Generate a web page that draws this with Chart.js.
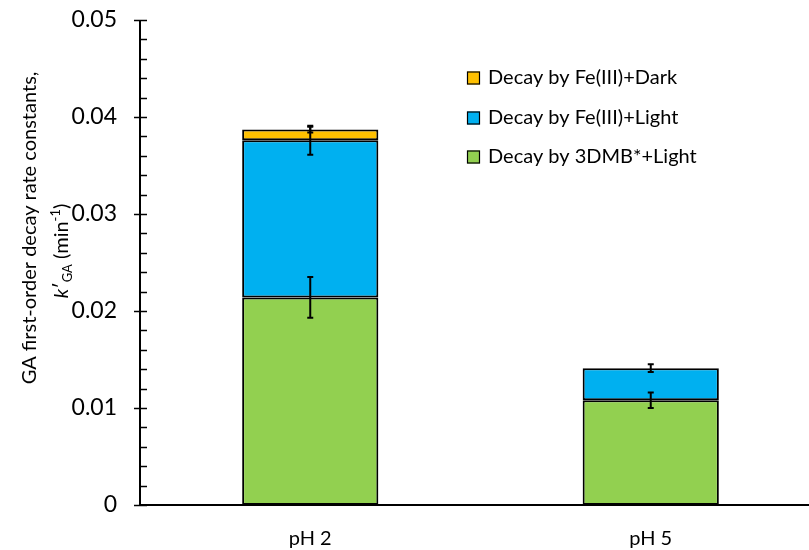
<!DOCTYPE html>
<html>
<head>
<meta charset="utf-8">
<script src="https://cdn.jsdelivr.net/npm/chart.js@4/dist/chart.umd.min.js"></script>
<style>
  html, body { margin: 0; padding: 0; background: #fff; overflow: hidden; width: 809px; height: 550px; }
  #wrap { position: relative; width: 821px; height: 550px; }
</style>
</head>
<body>
<div id="wrap"><canvas id="c" width="821" height="550"></canvas></div>
<script>
// Categories and stacked decay contributions (min^-1)
const categories = ['pH 2', 'pH 5'];
const by3DMBLight = [0.0214, 0.0108];
const byFeLight   = [0.0162, 0.0033];
const byFeDark    = [0.0011, 0];
// Error bar half-lengths for each segment
const err3DMBLight = [0.0021, 0.0008];
const errFeLight   = [0.0015, 0.0004];
const errFeDark    = [0.0003, 0];
// Y axis range and ticks
const yMin = 0, yMax = 0.05, yMajorStep = 0.01, yMinorStep = 0.002;

const FONT = 'Lato';
const AXIS = '#000';

const seriesList = [
  { label: 'Decay by 3DMB*+Light',  data: by3DMBLight, err: err3DMBLight, color: '#92D050' },
  { label: 'Decay by Fe(III)+Light', data: byFeLight,  err: errFeLight,   color: '#00B0F0' },
  { label: 'Decay by Fe(III)+Dark',  data: byFeDark,   err: errFeDark,    color: '#FFC000' }
];

// Error bars at the top of every stacked segment
const errorBars = {
  id: 'errorBars',
  afterDatasetsDraw(chart) {
    const ctx = chart.ctx, y = chart.scales.y;
    ctx.save();
    ctx.strokeStyle = '#000';
    ctx.lineWidth = 2;
    const cum = categories.map(() => 0);
    chart.data.datasets.forEach((ds, di) => {
      const meta = chart.getDatasetMeta(di);
      ds.data.forEach((v, i) => {
        cum[i] += v;
        const e = ds.errors[i];
        if (!e) return;
        const x = meta.data[i].x;
        const yT = y.getPixelForValue(cum[i] + e);
        const yB = y.getPixelForValue(cum[i] - e);
        ctx.beginPath();
        ctx.moveTo(x, yT); ctx.lineTo(x, yB);
        ctx.moveTo(x - 3, yT); ctx.lineTo(x + 3, yT);
        ctx.moveTo(x - 3, yB); ctx.lineTo(x + 3, yB);
        ctx.stroke();
      });
    });
    ctx.restore();
  }
};

// Axis lines, crossing major ticks and inward minor ticks
const axesFrame = {
  id: 'axesFrame',
  afterDraw(chart) {
    const ctx = chart.ctx, a = chart.chartArea, y = chart.scales.y;
    ctx.save();
    ctx.strokeStyle = AXIS;
    ctx.lineWidth = 2;
    ctx.beginPath();
    ctx.moveTo(a.left, a.top); ctx.lineTo(a.left, a.bottom);
    ctx.moveTo(a.left, a.bottom); ctx.lineTo(a.right, a.bottom);
    ctx.stroke();
    ctx.lineWidth = 1.5;
    const n = Math.round((yMax - yMin) / yMinorStep);
    const perMajor = Math.round(yMajorStep / yMinorStep);
    for (let k = 0; k <= n; k++) {
      const py = Math.round(y.getPixelForValue(yMin + k * yMinorStep)) + 0.5;
      const major = k % perMajor === 0;
      ctx.beginPath();
      ctx.moveTo(a.left - (major ? 6 : 0), py);
      ctx.lineTo(a.left + 7, py);
      ctx.stroke();
    }
    ctx.restore();
  }
};

// Y axis title (two rotated lines, second with sub/superscripts)
const yTitle = {
  id: 'yTitle',
  afterDraw(chart) {
    const ctx = chart.ctx;
    ctx.save();
    ctx.fillStyle = '#000';
    ctx.textBaseline = 'alphabetic';
    // line 1
    ctx.save();
    ctx.translate(36, 228);
    ctx.rotate(-Math.PI / 2);
    ctx.font = `20px ${FONT}`;
    ctx.textAlign = 'center';
    ctx.fillText('GA first-order decay rate constants,', 0, 0);
    ctx.restore();
    // line 2
    const segs = [
      { t: 'k', f: `italic 20px ${FONT}`, dy: 0 },
      { t: '\u2032', f: `20px ${FONT}`, dy: 0 },
      { t: 'GA', f: `13px ${FONT}`, dy: 4 },
      { t: ' (min', f: `20px ${FONT}`, dy: 0 },
      { t: '-1', f: `13px ${FONT}`, dy: -8 },
      { t: ')', f: `20px ${FONT}`, dy: 0 }
    ];
    let total = 0;
    segs.forEach(s => { ctx.font = s.f; s.w = ctx.measureText(s.t).width; total += s.w; });
    ctx.save();
    ctx.translate(68, 251);
    ctx.rotate(-Math.PI / 2);
    ctx.textAlign = 'left';
    let x = -total / 2;
    segs.forEach(s => { ctx.font = s.f; ctx.fillText(s.t, x, s.dy); x += s.w; });
    ctx.restore();
    ctx.restore();
  }
};

// Legend inside the plot, top series first
const insideLegend = {
  id: 'insideLegend',
  afterDraw(chart) {
    const ctx = chart.ctx;
    ctx.save();
    ctx.font = `20px ${FONT}`;
    ctx.textBaseline = 'middle';
    ctx.textAlign = 'left';
    const rows = [78, 118, 157];
    const order = chart.data.datasets.slice().reverse();
    order.forEach((ds, r) => {
      const cy = rows[r];
      ctx.fillStyle = ds.backgroundColor;
      ctx.fillRect(467, cy - 6.5, 13, 13);
      ctx.strokeStyle = '#000';
      ctx.lineWidth = 1.2;
      ctx.strokeRect(467.5, cy - 6, 12, 12);
      ctx.fillStyle = '#000';
      ctx.fillText(ds.label, 488, cy);
    });
    ctx.restore();
  }
};

new Chart(document.getElementById('c'), {
  type: 'bar',
  data: {
    labels: categories,
    datasets: seriesList.map(s => ({
      label: s.label,
      data: s.data,
      errors: s.err,
      backgroundColor: s.color,
      borderColor: '#000',
      borderWidth: 2,
      borderSkipped: false,
      barPercentage: 0.4,
      categoryPercentage: 1
    }))
  },
  options: {
    responsive: false,
    animation: false,
    devicePixelRatio: 1,
    layout: { padding: { left: 0, right: 0, top: 20, bottom: 0 } },
    plugins: { legend: { display: false }, tooltip: { enabled: false } },
    scales: {
      x: {
        stacked: true,
        grid: { display: false, drawTicks: false },
        border: { display: false },
        ticks: { padding: 22, color: '#000', font: { family: FONT, size: 20 } },
        afterFit(s) { s.height = 45; s.paddingLeft = 0; s.paddingRight = 0; }
      },
      y: {
        stacked: true,
        min: yMin,
        max: yMax,
        grid: { display: false, drawTicks: false },
        border: { display: false },
        ticks: {
          stepSize: yMajorStep,
          padding: 23,
          color: '#000',
          font: { family: FONT, size: 23 },
          callback: v => (v === 0 ? '0' : Number(v).toFixed(2))
        },
        afterFit(s) { s.width = 140; s.paddingTop = 0; s.paddingBottom = 0; }
      }
    }
  },
  plugins: [errorBars, axesFrame, yTitle, insideLegend]
});
</script>
</body>
</html>
